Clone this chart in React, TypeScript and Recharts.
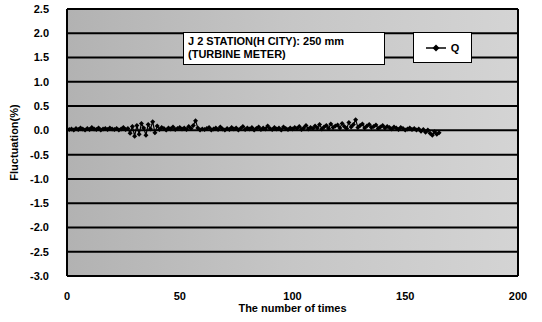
import {LineChart, Line, XAxis, YAxis, CartesianGrid, ReferenceLine} from "recharts";

const Q_VALUES = [
  0.02, 0.03, 0.01, 0.04, 0.02, 0.05, 0.03, 0.01, 0.04, 0.02,
  0.06, 0.03, 0.02, 0.05, 0.01, 0.03, 0.04, 0.02, 0.05, 0.03,
  0.02, 0.04, 0.01, 0.03, 0.06, 0.02, 0.04, -0.06, 0.08, -0.12,
  0.1, -0.08, 0.14, 0.05, -0.1, 0.12, 0.03, 0.18, -0.05, 0.09,
  0.02, 0.06, 0.04, 0.01, 0.05, 0.03, 0.07, 0.02, 0.04, 0.06,
  0.03, 0.05, 0.02, 0.08, 0.04, 0.1, 0.2, 0.05, 0.01, 0.03,
  0.02, 0.04, 0.06, 0.01, 0.03, 0.05, 0.02, 0.07, 0.03, 0.01,
  0.04, 0.02, 0.06, 0.03, 0.05, 0.01, 0.04, 0.08, 0.02, 0.05,
  0.03, 0.06, 0.01, 0.04, 0.07, 0.02, 0.05, 0.03, 0.09, 0.04,
  0.02, 0.06, 0.03, 0.05, 0.01, 0.07, 0.04, 0.02, 0.05, 0.03,
  0.06, 0.04, 0.08, 0.02, 0.05, 0.1, 0.03, 0.06, 0.04, 0.09,
  0.05, 0.12, 0.03, 0.07, 0.1, 0.04, 0.13, 0.06, 0.09, 0.11,
  0.05, 0.14, 0.08, 0.04, 0.16, 0.07, 0.12, 0.22, 0.06, 0.1,
  0.13, 0.05, 0.09, 0.12, 0.06, 0.08, 0.11, 0.04, 0.07, 0.1,
  0.05, 0.08, 0.06, 0.03, 0.07, 0.05, 0.02, 0.06, 0.04, 0.01,
  0.03, 0.05, 0.02, 0.04, 0.01, 0.03, -0.02, 0.02, -0.04, 0.01,
  -0.06, -0.1, -0.03, -0.08, -0.05,
];

const X_TICKS = [0, 50, 100, 150, 200];
const Y_TICKS = [-3, -2.5, -2, -1.5, -1, -0.5, 0, 0.5, 1, 1.5, 2, 2.5];

const data = Q_VALUES.map((q, i) => ({n: i + 1, q}));

const FONT = "'Liberation Sans', Arial, sans-serif";

const Diamond = (props: any) => {
  const {cx, cy} = props;
  if (cx == null || cy == null) return null;
  const r = 2.5;
  return <path d={`M${cx},${cy - r}L${cx + r},${cy}L${cx},${cy + r}L${cx - r},${cy}Z`} fill="#000" />;
};

const boxStyle = {
  position: "absolute" as const,
  background: "#fff",
  border: "1px solid #000",
  fontFamily: FONT,
  fontWeight: "bold" as const,
  fontSize: 11,
  color: "#000",
};

export default function App() {
  return (
    <div style={{position: "absolute", left: 0, top: 0, width: 542, height: 322, background: "#fff"}}>
      <LineChart width={542} height={322} data={data} margin={{top: 9, right: 24, bottom: 0, left: 0}}>
        <defs>
          <linearGradient id="paper" x1="0" y1="0" x2="1" y2="0">
            <stop offset="0%" stopColor="#b2b2b2" />
            <stop offset="50%" stopColor="#c6c6c6" />
            <stop offset="100%" stopColor="#d4d4d4" />
          </linearGradient>
        </defs>
        <CartesianGrid vertical={false} stroke="#000" strokeWidth={2} fill="url(#paper)" fillOpacity={1} />
        <XAxis
          dataKey="n"
          type="number"
          domain={[0, 200]}
          ticks={X_TICKS}
          tickLine={false}
          axisLine={{stroke: "#000", strokeWidth: 2}}
          tick={{fill: "#000", fontSize: 11, fontWeight: "bold", fontFamily: FONT}}
          tickMargin={10}
          height={46}
          label={{value: "The number of times", position: "insideBottom", offset: 10, fill: "#000", fontSize: 11, fontWeight: "bold", fontFamily: FONT}}
        />
        <YAxis
          type="number"
          domain={[-3, 2.5]}
          ticks={Y_TICKS}
          tickFormatter={(v: number) => v.toFixed(1)}
          tickLine={false}
          axisLine={{stroke: "#000", strokeWidth: 2}}
          tick={{fill: "#000", fontSize: 11, fontWeight: "bold", fontFamily: FONT}}
          tickMargin={12}
          width={67}
          label={{value: "Fluctuation(%)", angle: -90, position: "insideLeft", offset: 14, style: {textAnchor: "middle"}, fill: "#000", fontSize: 11, fontWeight: "bold", fontFamily: FONT}}
        />
        <ReferenceLine x={200} stroke="#000" strokeWidth={2} />
        <Line
          type="linear"
          dataKey="q"
          name="Q"
          stroke="#000"
          strokeWidth={1.2}
          dot={<Diamond />}
          activeDot={false}
          isAnimationActive={false}
        />
      </LineChart>
      <div style={{...boxStyle, left: 183, top: 32, width: 192, height: 27, padding: "2px 4px", lineHeight: "13px"}}>
        J 2 STATION(H CITY): 250 mm
        <br />
        (TURBINE METER)
      </div>
      <div
        style={{
          ...boxStyle,
          left: 413,
          top: 32,
          width: 57,
          height: 29,
          display: "flex",
          alignItems: "center",
          justifyContent: "center",
        }}
      >
        <svg width={20} height={10} style={{marginRight: 5}}>
          <line x1={0} y1={5} x2={20} y2={5} stroke="#000" strokeWidth={1.5} />
          <path d="M10,1.5L13.5,5L10,8.5L6.5,5Z" fill="#000" />
        </svg>
        Q
      </div>
    </div>
  );
}
